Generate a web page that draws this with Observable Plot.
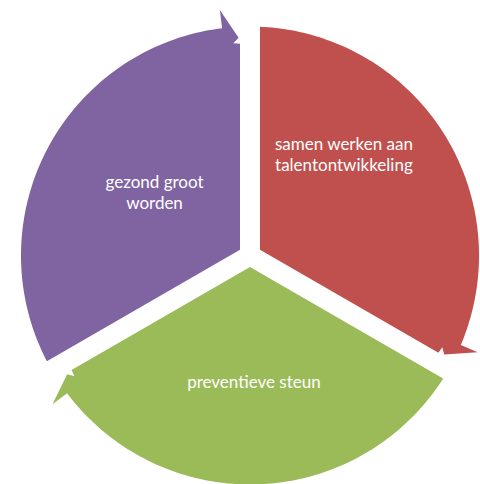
<!DOCTYPE html>
<html><head><meta charset="utf-8">
<script src="https://cdn.jsdelivr.net/npm/d3@7"></script>
<script src="https://cdn.jsdelivr.net/npm/@observablehq/plot@0.6"></script>
<style>html,body{margin:0;padding:0;background:#fff;}</style>
</head><body><div id="chart"></div>
<script>
// ---- data ----
const segments = ["samen werken aan talentontwikkeling", "preventieve steun", "gezond groot worden"];
const shares = [1, 1, 1];
const labels = ["samen werken aan\ntalentontwikkeling", "preventieve steun", "gezond groot\nworden"];
const colors = ["#C0504D", "#9BBB59", "#8064A2"];

// ---- layout ----
const W = 480, H = 484, CX = 249.5, CY = 255, R = 229;
const gap = 10 / R;
const rad = d => d * Math.PI / 180;
const polar = (r, deg) => ({x: r * Math.sin(rad(deg)), y: r * Math.cos(rad(deg))});

const total = d3.sum(shares);
let acc = 0;
const arcs = shares.map((v, i) => {
  const S = acc / total * 360; acc += v; const E = acc / total * 360;
  return {i, S, E};
});

const points = [];
for (const {i, S, E} of arcs) {
  const pts = [];
  const half = (E - S) / 2;
  pts.push(polar(gap / Math.sin(rad(half)), S + half)); // apex
  const a0 = S + Math.asin(gap) * 180 / Math.PI;
  const aBase = E - 7;
  for (let a = a0; a < aBase; a += 1) pts.push(polar(1, a));
  pts.push(polar(1, aBase));
  pts.push(polar(1.08, aBase));       // outer barb
  pts.push(polar(0.952, E - 3));      // tip
  pts.push(polar(0.93, E - 4.5));     // inner barb
  const rc = 0.926, t = Math.sqrt(rc * rc - gap * gap);
  const u = {x: Math.sin(rad(E)), y: Math.cos(rad(E))};
  const n = {x: Math.cos(rad(E)), y: -Math.sin(rad(E))};
  pts.push({x: t * u.x - gap * n.x, y: t * u.y - gap * n.y});
  pts.push(pts[0]);
  pts.forEach((p, k) => points.push({...p, seg: segments[i], k}));
}

const labelPlace = [{x: 0.41, y: 0.443}, {x: 0.017, y: -0.548}, {x: -0.417, y: 0.277}];
const labelData = labels.map((t, i) => ({text: t, ...labelPlace[i]}));

const chart = Plot.plot({
  width: W, height: H, margin: 0,
  x: {domain: [-CX / R, (W - CX) / R], axis: null},
  y: {domain: [-(H - CY) / R, CY / R], axis: null},
  style: {background: "white"},
  marks: [
    ...segments.map((s, i) => Plot.line(points.filter(p => p.seg === s), {
      x: "x", y: "y", fill: colors[i], stroke: "none", curve: "linear"
    })),
    Plot.text(labelData, {x: "x", y: "y", text: "text", fill: "white",
      fontSize: 17, fontFamily: "Lato", lineHeight: 1.25})
  ]
});
document.getElementById("chart").appendChild(chart);
</script>
</body></html>
